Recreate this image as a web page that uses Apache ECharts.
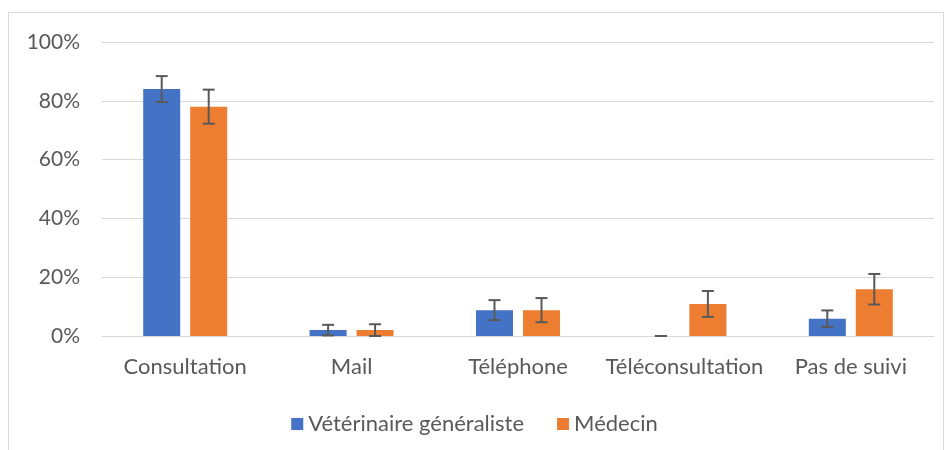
<!DOCTYPE html>
<html>
<head>
<meta charset="utf-8">
<script src="https://cdn.jsdelivr.net/npm/echarts@6/dist/echarts.min.js"></script>
<style>
    html, body { margin: 0; padding: 0; background: #fff; }
    #frame { position: absolute; left: 8px; top: 12px; width: 936px; height: 450px; border: 1px solid #d9d9d9; box-sizing: border-box; }
    #chart { position: absolute; left: 0; top: 0; width: 949px; height: 450px; }
</style>
</head>
<body>
<div id="frame"></div>
<div id="chart"></div>
<script>
var categories = ['Consultation', 'Mail', 'Téléphone', 'Téléconsultation', 'Pas de suivi'];
var vetValues = [84, 2, 8.8, 0, 5.9];
var vetErr = [4.4, 1.8, 3.4, 0, 2.8];
var medValues = [78, 2, 8.8, 10.9, 15.9];
var medErr = [5.8, 2, 4.1, 4.4, 5.2];

var barW = 37;
var offset = 23.5;
var font = 'Lato';

function errorSeries(values, errs, shift) {
    var data = values.map(function (v, i) { return [i, v - errs[i], v + errs[i]]; });
    return {
        type: 'custom',
        silent: true,
        z: 10,
        renderItem: function (params, api) {
            var lo = api.coord([api.value(0), api.value(1)]);
            var hi = api.coord([api.value(0), api.value(2)]);
            var x = lo[0] + shift;
            var cap = 6;
            var st = { stroke: '#595959', lineWidth: 2 };
            return {
                type: 'group',
                children: [
                    { type: 'line', shape: { x1: x, y1: lo[1], x2: x, y2: hi[1] }, style: st },
                    { type: 'line', shape: { x1: x - cap, y1: lo[1], x2: x + cap, y2: lo[1] }, style: st },
                    { type: 'line', shape: { x1: x - cap, y1: hi[1], x2: x + cap, y2: hi[1] }, style: st }
                ]
            };
        },
        encode: { x: 0, y: [1, 2] },
        data: data
    };
}

var myChart = echarts.init(document.getElementById('chart'));
var option = {
    animation: false,
    textStyle: { fontFamily: font },
    legend: {
        top: 408,
        left: 'center',
        itemWidth: 12,
        itemHeight: 12,
        itemGap: 33,
        icon: 'rect',
        textStyle: { fontSize: 22, color: '#595959', fontFamily: font },
        data: ['Vétérinaire généraliste', 'Médecin']
    },
    grid: { left: 102, right: 15, top: 42, bottom: 114 },
    xAxis: {
        type: 'category',
        data: categories,
        axisTick: { show: false },
        axisLine: { lineStyle: { color: '#d9d9d9', width: 1 } },
        axisLabel: { color: '#595959', fontSize: 22, margin: 20, interval: 0, fontFamily: font }
    },
    yAxis: {
        type: 'value',
        min: 0,
        max: 100,
        interval: 20,
        axisLine: { show: false },
        axisTick: { show: false },
        splitLine: { lineStyle: { color: '#d9d9d9', width: 1 } },
        axisLabel: { color: '#595959', fontSize: 21, margin: 22, formatter: '{value}%', fontFamily: font }
    },
    series: [
        {
            name: 'Vétérinaire généraliste',
            type: 'bar',
            barWidth: barW,
            barGap: '27%',
            itemStyle: { color: '#4472c4' },
            data: vetValues
        },
        {
            name: 'Médecin',
            type: 'bar',
            barWidth: barW,
            itemStyle: { color: '#ed7d31' },
            data: medValues
        },
        errorSeries(vetValues, vetErr, -offset),
        errorSeries(medValues, medErr, offset)
    ]
};
myChart.setOption(option);
</script>
</body>
</html>
